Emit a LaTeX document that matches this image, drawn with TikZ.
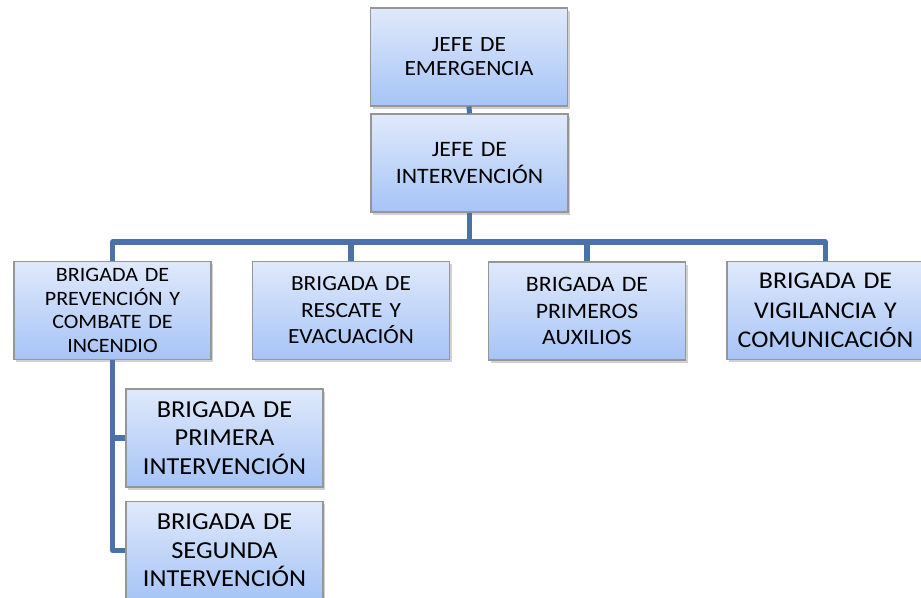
\documentclass[tikz,border=0pt]{standalone}
\usepackage{fontspec}
\setmainfont{Carlito}[FakeStretch=1.08]
\usetikzlibrary{shadows}
\definecolor{boxtop}{RGB}{224,233,251}
\definecolor{boxbot}{RGB}{166,196,246}
\definecolor{boxline}{RGB}{150,150,150}
\definecolor{conn}{RGB}{74,114,166}
\tikzset{
  orgbox/.style={draw=boxline, line width=0.8pt, top color=boxtop, bottom color=boxbot,
    minimum width=147.75pt, minimum height=73.5pt, text width=140pt, align=center,
    inner sep=0pt, drop shadow={shadow xshift=1.5pt, shadow yshift=-2pt, opacity=0.3, fill=black!60}},
  link/.style={draw=conn, line width=3.8pt},
}
\begin{document}
\begin{tikzpicture}[x=0.75pt,y=-0.75pt]
\useasboundingbox (0,0) rectangle (921,597);
\clip (0,0) rectangle (921,597);
\node[orgbox, font=\fontsize{16.3pt}{18pt}\selectfont] (em) at (469,57) {JEFE DE\\EMERGENCIA};
\node[orgbox, font=\fontsize{16.5pt}{20.25pt}\selectfont] (int) at (469.5,163) {JEFE DE\\INTERVENCIÓN};
\node[orgbox, font=\fontsize{15.3pt}{17.8pt}\selectfont] (prev) at (112.5,310.5) {BRIGADA DE\\PREVENCIÓN Y\\COMBATE DE\\INCENDIO};
\node[orgbox, font=\fontsize{16.2pt}{19.9pt}\selectfont] (resc) at (351,310.5) {BRIGADA DE\\RESCATE Y\\EVACUACIÓN};
\node[orgbox, font=\fontsize{16.5pt}{19.9pt}\selectfont] (aux) at (587,311) {BRIGADA DE\\PRIMEROS\\AUXILIOS};
\node[orgbox, font=\fontsize{18pt}{22pt}\selectfont] (vig) at (825.5,310.5) {BRIGADA DE\\VIGILANCIA Y\\COMUNICACIÓN};
\node[orgbox, font=\fontsize{18.3pt}{21.4pt}\selectfont] (pri) at (224.5,438) {BRIGADA DE\\PRIMERA\\INTERVENCIÓN};
\node[orgbox, font=\fontsize{18.3pt}{21.4pt}\selectfont] (seg) at (224.5,550.5) {BRIGADA DE\\SEGUNDA\\INTERVENCIÓN};
\coordinate (bus) at (469.5,242);
\draw[link] (em.south) -- (int.north);
\draw[link] (int.south) -- (bus);
\draw[link, line join=round] (bus) -| (prev.north);
\draw[link, line join=round] (bus) -| (resc.north);
\draw[link, line join=round] (bus) -| (aux.north);
\draw[link, line join=round] (bus) -| (vig.north);
\draw[link, line join=round] (prev.south) |- (pri.west);
\draw[link, line join=round] (prev.south) |- (seg.west);
\end{tikzpicture}
\end{document}
